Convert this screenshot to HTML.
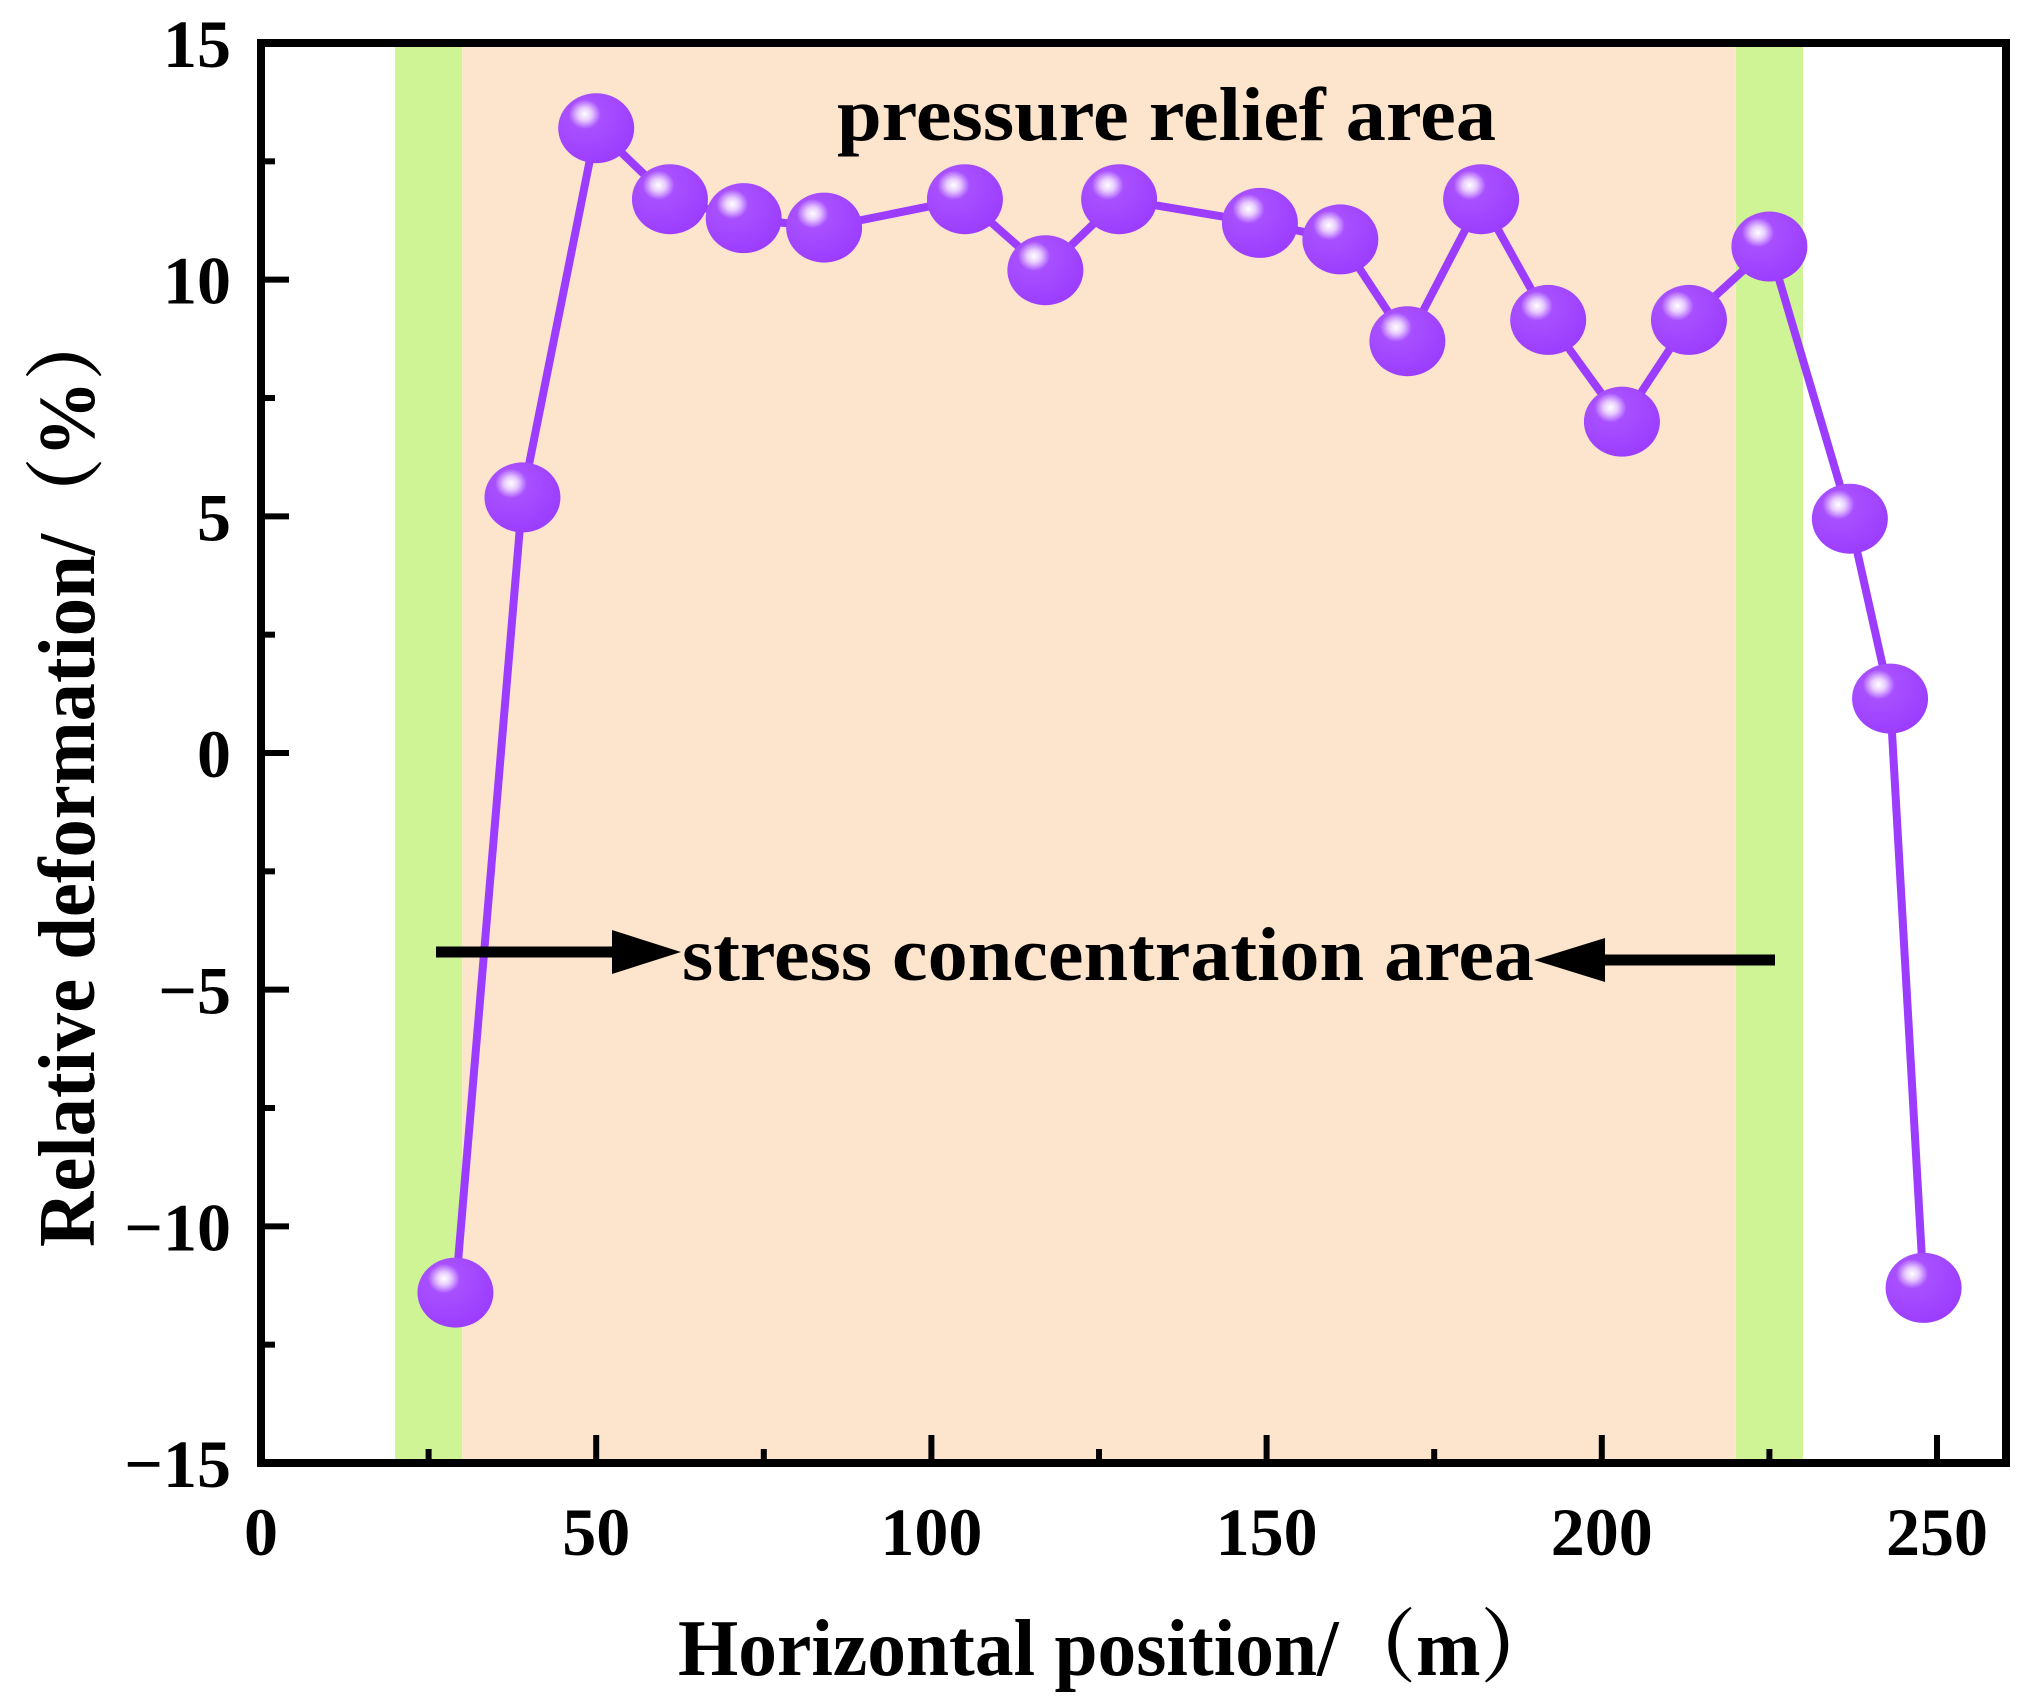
<!DOCTYPE html>
<html><head><meta charset="utf-8"><style>
html,body{margin:0;padding:0;background:#fff}
svg{display:block}
text{font-family:"Liberation Serif","Noto Serif CJK SC",serif;font-weight:bold;fill:#000}
</style></head><body>
<svg id="chart" width="2026" height="1702" viewBox="0 0 2026 1702" xmlns="http://www.w3.org/2000/svg">
<defs>
<radialGradient id="ball" cx="0.35" cy="0.3" r="0.75">
<stop offset="0" stop-color="#ffffff"/>
<stop offset="0.12" stop-color="#e8ccff"/>
<stop offset="0.28" stop-color="#a850ff"/>
<stop offset="1" stop-color="#9b3cff"/>
</radialGradient>
</defs>
<g id="bands"></g>
<g id="series"></g>
<g id="axes"></g>
<text x="837" y="140" font-size="76" textLength="659" lengthAdjust="spacingAndGlyphs">pressure relief area</text>
<g>
<line x1="436" y1="952" x2="620" y2="952" stroke="#000" stroke-width="11"/>
<polygon points="612,930 681,952 612,974" fill="#000"/>
<text x="682" y="980" font-size="76" textLength="852" lengthAdjust="spacingAndGlyphs">stress concentration area</text>
<line x1="1600" y1="960" x2="1775" y2="960" stroke="#000" stroke-width="11"/>
<polygon points="1605,938 1534,960 1605,982" fill="#000"/>
</g>
<text x="678" y="1675" font-size="80" textLength="880" lengthAdjust="spacingAndGlyphs">Horizontal position/（m）</text>
<text transform="translate(94,1247) rotate(-90)" x="0" y="0" font-size="80" textLength="943" lengthAdjust="spacingAndGlyphs">Relative deformation/（%）</text>
</svg>
<script>
const xs = [29,39,50,61,72,84,105,117,128,149,161,171,182,192,203,213,225,237,243,248];
const ys = [-11.4,5.4,13.2,11.7,11.3,11.1,11.7,10.2,11.7,11.2,10.85,8.7,11.7,9.15,7.0,9.15,10.7,4.95,1.15,-11.3];
const xTicks = [0,50,100,150,200,250];
const yTicks = [-15,-10,-5,0,5,10,15];
const yTickLabels = ["\u221215","\u221210","\u22125","0","5","10","15"];
const bandsGreen = [[20,30],[220,230]];
const bandPeach = [30,220];

const L=261,R=2006,T=43,B=1463;
const X0=0,X1=250,Y0=-15,Y1=15;
const xScale = v => 261 + (v - X0) * (1937-261)/(X1-X0);
const yScale = v => B - (v - Y0) * (B-T)/(Y1-Y0);
const NS="http://www.w3.org/2000/svg";
function mk(tag, attrs, parent){const e=document.createElementNS(NS,tag);for(const k in attrs)e.setAttribute(k,attrs[k]);parent.appendChild(e);return e;}

const bands=document.getElementById('bands');
let p=mk('rect',{x:xScale(bandPeach[0]),y:T,width:xScale(bandPeach[1])-xScale(bandPeach[0]),height:B-T,fill:'#fde5cd'},bands);


bandsGreen.forEach((b,i)=>{
  const r=mk('rect',{x:xScale(b[0]),y:T,width:xScale(b[1])-xScale(b[0]),height:B-T,fill:'#cff495'},bands);
  
  
});

const series=document.getElementById('series');
const pts=xs.map((x,i)=>xScale(x)+','+yScale(ys[i])).join(' ');
const line=mk('polyline',{points:pts,fill:'none',stroke:'#9b3cff','stroke-width':8,'stroke-linejoin':'round'},series);


xs.forEach((x,i)=>{
  const c=mk('ellipse',{cx:xScale(x),cy:yScale(ys[i]),rx:38,ry:35,fill:'url(#ball)'},series);
  
  
});

const axes=document.getElementById('axes');
const frame=mk('rect',{x:L,y:T,width:R-L,height:B-T,fill:'none',stroke:'#000','stroke-width':8},axes);


for(let v=25; v<=250; v+=25){
  const major=v%50===0, len=major?28:14;
  const t=mk('line',{x1:xScale(v),x2:xScale(v),y1:B,y2:B-len,stroke:'#000','stroke-width':6},axes);
  
  
}
for(let v=-12.5; v<=12.5; v+=2.5){
  const major=Math.abs(v%5)<1e-6, len=major?28:14;
  const t=mk('line',{x1:L,x2:L+len,y1:yScale(v),y2:yScale(v),stroke:'#000','stroke-width':6},axes);
  
  
}
xTicks.forEach(v=>{
  const t=mk('text',{x:xScale(v),y:1555,'font-size':68,'text-anchor':'middle'},axes);
  t.textContent=String(v);
  
  
});
yTicks.forEach((v,i)=>{
  const t=mk('text',{x:231,y:yScale(v)+24,'font-size':68,'text-anchor':'end'},axes);
  t.textContent=yTickLabels[i];
  
  
});
</script>
</body></html>
